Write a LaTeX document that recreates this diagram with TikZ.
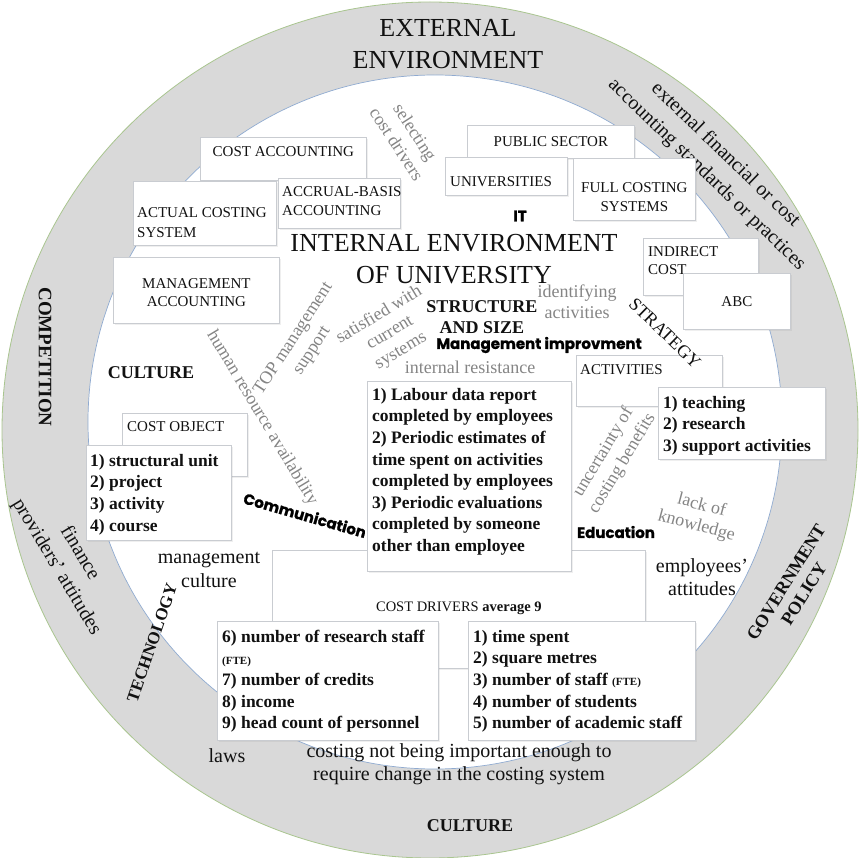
\documentclass[tikz,border=0pt]{standalone}
\usepackage{fontspec}
\setmainfont{Liberation Serif}
\newfontfamily\heavyfont{Poppins}[BoldFeatures={FakeBold=1.2}]
\usetikzlibrary{shadows}
\definecolor{uniBand}{HTML}{D9D9D9}
\definecolor{uniRim}{HTML}{A9C58F}
\definecolor{uniEdge}{HTML}{8FAAD0}
\definecolor{uniLine}{HTML}{C9CCD1}
\definecolor{uniGrey}{HTML}{858585}
\definecolor{uniInk}{HTML}{111111}
\tikzset{
    band/.style={fill=uniBand, draw=uniRim, line width=0.8pt},
    core/.style={fill=white, draw=uniEdge, line width=0.7pt},
    card/.style={draw=uniLine, fill=white, line width=0.7pt, inner sep=0pt, anchor=north west, drop shadow={shadow xshift=1.2pt, shadow yshift=-1.2pt, opacity=0.12}},
    cardtext/.style={font=\fontsize{15}{19}\selectfont, text=uniInk, inner sep=0pt, align=left},
    listtext/.style={font=\fontsize{17.5}{21.6}\selectfont\bfseries, text=uniInk, inner sep=0pt, align=left, anchor=north west},
    faint/.style={font=\fontsize{18}{21}\selectfont, text=uniGrey, inner sep=0pt, align=center},
    plain/.style={font=\fontsize{20}{23}\selectfont, text=uniInk, inner sep=0pt, align=center},
    caps/.style={font=\fontsize{18}{21}\selectfont\bfseries, text=uniInk, inner sep=0pt, align=center},
    heavy/.style={font=\heavyfont\bfseries\fontsize{15}{17}\selectfont, text=black, inner sep=0pt},
    title/.style={font=\fontsize{26}{32}\selectfont, text=uniInk, inner sep=0pt, align=center}
}
\begin{document}
\begin{tikzpicture}[x=1pt, y=-1pt]
\useasboundingbox (0,0) rectangle (860,858);
% rings
\path[band] (430,430) circle[radius=428pt];
\path[core] (435,422) circle[radius=347pt];

% external environment
\node[title] (extTitle) at (448,44) {EXTERNAL\\ENVIRONMENT};
\node[plain, font=\fontsize{20}{27}\selectfont, rotate=-44] (extStd) at (716,165) {external financial or cost\\accounting standards or practices};
\node[caps, font=\fontsize{19}{21}\selectfont\bfseries, rotate=-90] (extComp) at (45,357) {COMPETITION};
\node[plain, font=\fontsize{20}{27}\selectfont, rotate=-59] (extFin) at (68,560) {finance\\providers' attitudes};
\node[caps, font=\fontsize{17}{20}\selectfont\bfseries, rotate=71] (extTech) at (152,643) {TECHNOLOGY};
\node[plain] (extLaws) at (227,756) {laws};
\node[plain] (extCosting) at (459,764) {costing not being important enough to\\require change in the costing system};
\node[caps] (extCult) at (470,826) {CULTURE};
\node[caps, rotate=58] (extGov) at (795,588) {GOVERNMENT\\POLICY};

% cards, back to front
\node[card, minimum width=166pt, minimum height=43pt] (costAcc) at (200,137) {};
\node[cardtext, anchor=north] at ([yshift=-9pt]costAcc.north) {COST ACCOUNTING};
\node[card, minimum width=143pt, minimum height=64pt] (actual) at (133,181) {};
\node[cardtext, anchor=north west, font=\fontsize{15}{20}\selectfont] at ([shift={(4pt,-26pt)}]actual.north west) {ACTUAL COSTING\\SYSTEM};
\node[card, minimum width=122pt, minimum height=50pt] (accrual) at (278,178) {};
\node[cardtext, anchor=north west] at ([shift={(4pt,-8pt)}]accrual.north west) {ACCRUAL-BASIS\\ACCOUNTING};
\node[card, minimum width=166pt, minimum height=66pt] (mgmtAcc) at (113,257) {};
\node[cardtext, anchor=north, align=center, font=\fontsize{15}{18}\selectfont] at ([yshift=-21pt]mgmtAcc.north) {MANAGEMENT\\ACCOUNTING};

\node[card, minimum width=167pt, minimum height=33pt] (public) at (467,125) {};
\node[cardtext] at (public.center) {PUBLIC SECTOR};
\node[card, minimum width=122pt, minimum height=38pt] (univ) at (445,157) {};
\node[cardtext, anchor=west] at ([shift={(5pt,-5pt)}]univ.west) {UNIVERSITIES};
\node[card, minimum width=122pt, minimum height=62pt] (fullCost) at (573,158) {};
\node[cardtext, anchor=north, align=center] at ([yshift=-24pt]fullCost.north) {FULL COSTING\\SYSTEMS};

\node[card, minimum width=115pt, minimum height=57pt] (indirect) at (643,238) {};
\node[cardtext, anchor=north west, font=\fontsize{15}{18}\selectfont] at ([shift={(5pt,-8pt)}]indirect.north west) {INDIRECT\\COST};
\node[card, minimum width=107pt, minimum height=56pt] (abc) at (683,273) {};
\node[cardtext] at (abc.center) {ABC};

\node[card, minimum width=146pt, minimum height=51pt] (activ) at (576,355) {};
\node[cardtext, anchor=north west] at ([shift={(4pt,-9pt)}]activ.north west) {ACTIVITIES};
\node[card, minimum width=167pt, minimum height=72pt] (teach) at (658,387) {};
\node[listtext] at ([shift={(5pt,-9pt)}]teach.north west) {1) teaching\\2) research\\3) support activities};

\node[card, minimum width=125pt, minimum height=63pt] (costObj) at (122,413) {};
\node[cardtext, anchor=north west] at ([shift={(5pt,-8pt)}]costObj.north west) {COST OBJECT};
\node[card, minimum width=145pt, minimum height=95pt] (objList) at (86,445) {};
\node[listtext] at ([shift={(4pt,-9pt)}]objList.north west) {1) structural unit\\2) project\\3) activity\\4) course};

\node[card, minimum width=373pt, minimum height=118pt] (drivers) at (272,550) {};
\node[cardtext, font=\fontsize{14.5}{17}\selectfont] at ([yshift=1pt]drivers.center) {COST DRIVERS \textbf{average 9}};
\node[card, minimum width=204pt, minimum height=190pt] (labour) at (367,381) {};
\node[listtext] at ([shift={(5pt,-7pt)}]labour.north west) {1) Labour data report\\completed by employees\\2) Periodic estimates of\\time spent on activities\\completed by employees\\3) Periodic evaluations\\completed by someone\\other than employee};
\node[card, minimum width=221pt, minimum height=119pt] (drvLeft) at (217,621) {};
\node[listtext] at ([shift={(5pt,-9pt)}]drvLeft.north west) {6) number of research staff\\{\fontsize{11}{21.6}\selectfont(FTE)}\\7) number of credits\\8) income\\9) head count of personnel};
\node[card, minimum width=227pt, minimum height=119pt] (drvRight) at (468,621) {};
\node[listtext] at ([shift={(5pt,-9pt)}]drvRight.north west) {1) time spent\\2) square metres\\3) number of staff {\fontsize{11}{21.6}\selectfont(FTE)}\\4) number of students\\5) number of academic staff};

% internal environment
\node[title] (intTitle) at (454,259) {INTERNAL ENVIRONMENT\\OF UNIVERSITY};
\node[heavy] (intIT) at (520,216) {IT};
\node[caps] (intStruct) at (482,317) {STRUCTURE\\AND SIZE};
\node[heavy] (intMgmt) at (539,345) {Management improvment};
\node[faint] (intIdent) at (577,302) {identifying\\activities};
\node[faint] (intResist) at (470,367) {internal resistance};
\node[faint, font=\fontsize{18}{22}\selectfont, rotate=-57] (intSelect) at (406,138) {selecting\\cost drivers};
\node[faint, rotate=31] (intSatisfied) at (390,333) {satisfied with\\current\\systems};
\node[faint, font=\fontsize{18}{22}\selectfont, rotate=57] (intTop) at (303,345) {TOP management\\support};
\node[faint, rotate=-59] (intHuman) at (262,418) {human resource availability};
\node[caps] (intCult) at (151,373) {CULTURE};
\node[heavy, rotate=-16] (intComm) at (305,515) {Communication};
\node[heavy] (intEdu) at (616,532) {Education};
\node[faint, font=\fontsize{18}{22}\selectfont, rotate=59] (intUncert) at (613,458) {uncertainty of\\costing benefits};
\node[faint, rotate=-15] (intLack) at (699,516) {lack of\\knowledge};
\node[plain, font=\fontsize{20}{23}\selectfont] (intEmpl) at (702,577) {employees'\\attitudes};
\node[plain, font=\fontsize{20}{24}\selectfont] (intMgmtCult) at (209,570) {management\\culture};
\node[plain, font=\fontsize{18}{21}\selectfont, rotate=-44] (intStrat) at (665,333) {STRATEGY};
\end{tikzpicture}
\end{document}
